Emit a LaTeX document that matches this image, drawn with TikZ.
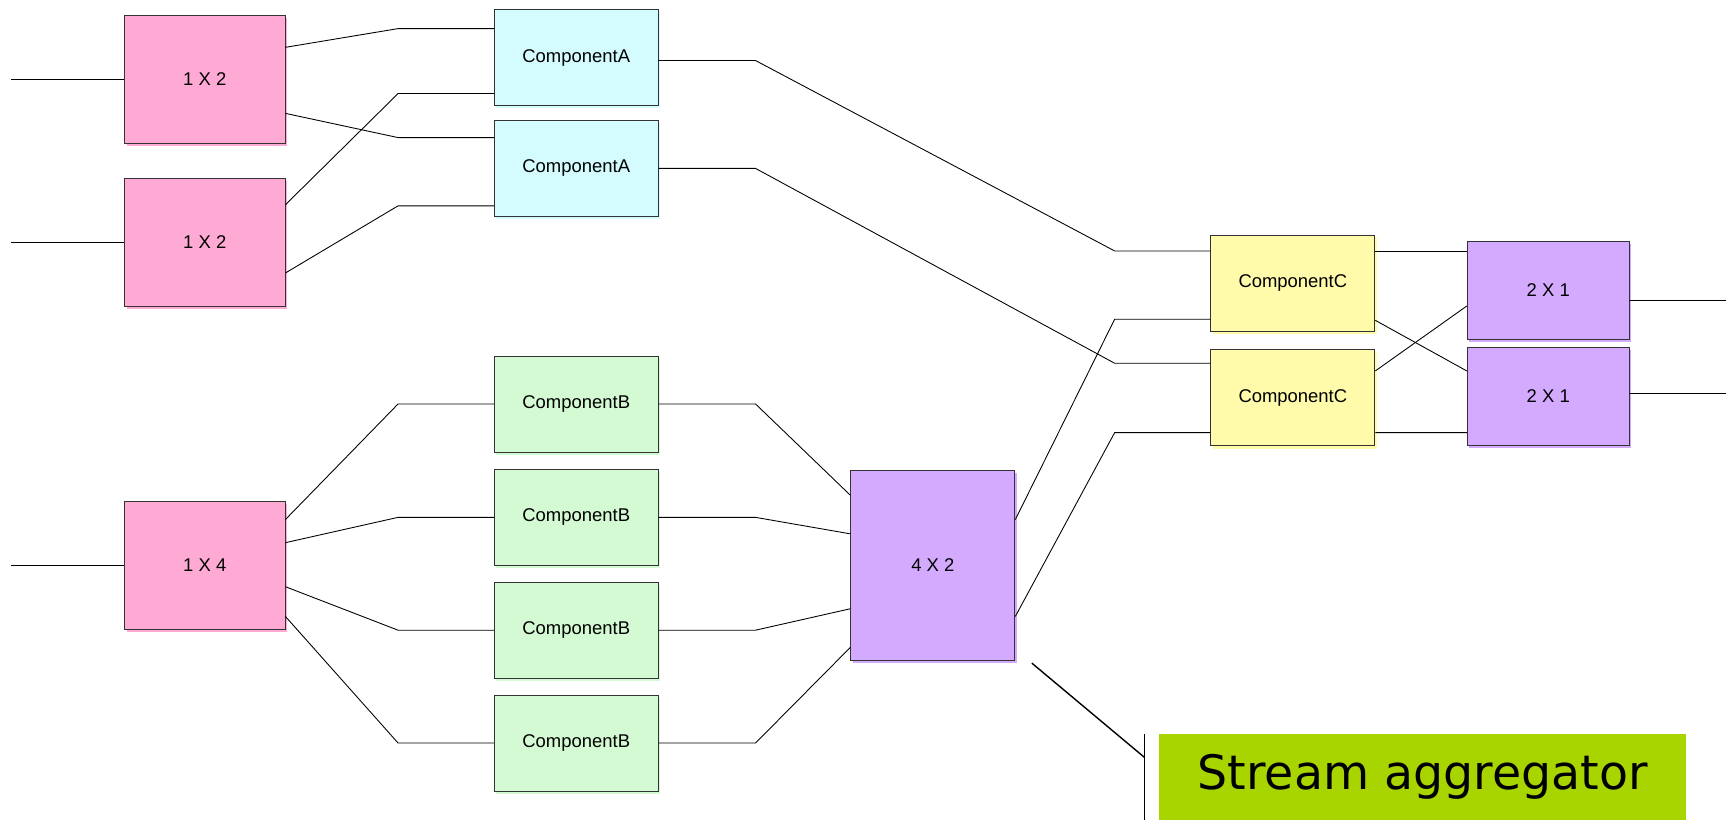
\documentclass[tikz,border=0pt]{standalone}
\usepackage{fontspec}
\setmainfont{Liberation Sans}
\newfontfamily\aggfont{DejaVu Sans}
\usetikzlibrary{calc,shadows}

\definecolor{splitpink}{HTML}{FFAAD4}
\definecolor{compcyan}{HTML}{D4FCFF}
\definecolor{compgreen}{HTML}{D4FAD4}
\definecolor{compyellow}{HTML}{FFFBAA}
\definecolor{mergeviolet}{HTML}{D4AAFF}
\definecolor{agglime}{HTML}{A8D400}

\tikzset{
  box/.style={draw=black!80, line width=0.5pt, inner sep=0pt,
    minimum width=3.28cm, minimum height=1.92cm,
    font=\fontsize{10.5}{12}\selectfont},
  splitbox/.style={box, fill=splitpink, minimum width=3.21cm, minimum height=2.56cm,
    general shadow={fill=splitpink, shadow xshift=1.2pt, shadow yshift=-1.5pt}},
  compA/.style={box, fill=compcyan,
    general shadow={fill=compcyan, shadow xshift=1.2pt, shadow yshift=-1.5pt}},
  compB/.style={box, fill=compgreen,
    general shadow={fill=compgreen, shadow xshift=1.2pt, shadow yshift=-1.5pt}},
  compC/.style={box, fill=compyellow,
    general shadow={fill=compyellow, shadow xshift=1.2pt, shadow yshift=-1.5pt}},
  mergebox/.style={box, fill=mergeviolet,
    general shadow={fill=mergeviolet, shadow xshift=1.2pt, shadow yshift=-1.5pt}},
  wire/.style={line width=0.5pt}
}

\begin{document}
\begin{tikzpicture}[x=0.022016cm,y=-0.022016cm]
\useasboundingbox (0,0) rectangle (1568,745);

% splitters
\node[splitbox] (p1) at (186,72) {1 X 2};
\node[splitbox] (p2) at (186,220) {1 X 2};
\node[splitbox] (p3) at (186,513.5) {1 X 4};

% components
\node[compA] (a1) at (523.5,52.5) {ComponentA};
\node[compA] (a2) at (523.5,153) {ComponentA};
\node[compB] (b1) at (523.5,367) {ComponentB};
\node[compB] (b2) at (523.5,470) {ComponentB};
\node[compB] (b3) at (523.5,572.5) {ComponentB};
\node[compB] (b4) at (523.5,675) {ComponentB};
\node[compC] (c1) at (1174.5,257.5) {ComponentC};
\node[compC] (c2) at (1174.5,361.5) {ComponentC};

% mergers
\node[mergebox, minimum height=3.81cm] (m) at (847.5,513.5) {4 X 2};
\node[mergebox, minimum width=3.24cm, minimum height=1.96cm] (d1) at (1406.5,263.5) {2 X 1};
\node[mergebox, minimum width=3.24cm, minimum height=1.96cm] (d2) at (1406.5,360) {2 X 1};

% label
\node[fill=agglime, minimum width=10.55cm, minimum height=1.72cm, inner sep=0pt,
  font=\aggfont\fontsize{27}{30}\selectfont] (agg) at (1292.5,706) {Stream aggregator};

\coordinate (in1) at (10,72);
\coordinate (in2) at (10,220);
\coordinate (in3) at (10,513.5);
\coordinate (out1) at (1568,273);
\coordinate (out2) at (1568,357);

% inputs and outputs
\draw[wire] (in1) -- (p1.west);
\draw[wire] (in2) -- (p2.west);
\draw[wire] (in3) -- (p3.west);
\draw[wire] ($(d1.east)+(0,9.5)$) -- (out1);
\draw[wire] ($(d2.east)+(0,-3)$) -- (out2);

% splitters to A
\draw[wire] ($(p1.east)+(0,-29)$) -- ($(a1.west)+(-87,-26.5)$) -- ($(a1.west)+(0,-26.5)$);
\draw[wire] ($(p1.east)+(0,31)$) -- ($(a2.west)+(-87,-28)$) -- ($(a2.west)+(0,-28)$);
\draw[wire] ($(p2.east)+(0,-34)$) -- ($(a1.west)+(-87,32.5)$) -- ($(a1.west)+(0,32.5)$);
\draw[wire] ($(p2.east)+(0,28)$) -- ($(a2.west)+(-87,34)$) -- ($(a2.west)+(0,34)$);

% A to C
\draw[wire] ($(a1.east)+(0,2.5)$) -- ($(a1.east)+(88,2.5)$) -- ($(c1.west)+(-87,-29.5)$) -- ($(c1.west)+(0,-29.5)$);
\draw[wire] (a2.east) -- ($(a2.east)+(88,0)$) -- ($(c2.west)+(-87,-31.5)$) -- ($(c2.west)+(0,-31.5)$);

% splitter to B
\draw[wire] ($(p3.east)+(0,-41.5)$) -- ($(b1.west)+(-87,0)$) -- (b1.west);
\draw[wire] ($(p3.east)+(0,-20.5)$) -- ($(b2.west)+(-87,0)$) -- (b2.west);
\draw[wire] ($(p3.east)+(0,19.5)$) -- ($(b3.west)+(-87,0)$) -- (b3.west);
\draw[wire] ($(p3.east)+(0,46.5)$) -- ($(b4.west)+(-87,0)$) -- (b4.west);

% B to 4x2
\draw[wire] (b1.east) -- ($(b1.east)+(88,0)$) -- ($(m.west)+(0,-63.5)$);
\draw[wire] (b2.east) -- ($(b2.east)+(88,0)$) -- ($(m.west)+(0,-28.5)$);
\draw[wire] (b3.east) -- ($(b3.east)+(88,0)$) -- ($(m.west)+(0,39.5)$);
\draw[wire] (b4.east) -- ($(b4.east)+(88,0)$) -- ($(m.west)+(0,74.5)$);

% 4x2 to C
\draw[wire] ($(m.east)+(0,-41.5)$) -- ($(c1.west)+(-87,32.5)$) -- ($(c1.west)+(0,32.5)$);
\draw[wire] ($(m.east)+(0,46.5)$) -- ($(c2.west)+(-87,31.5)$) -- ($(c2.west)+(0,31.5)$);

% C to 2x1
\draw[wire] ($(c1.east)+(0,-29.5)$) -- ($(d1.west)+(0,-35.5)$);
\draw[wire] ($(c1.east)+(0,33.5)$) -- ($(d2.west)+(0,-23)$);
\draw[wire] ($(c2.east)+(0,-24.5)$) -- ($(d1.west)+(0,14.5)$);
\draw[wire] ($(c2.east)+(0,31.5)$) -- ($(d2.west)+(0,33)$);

% callout
\coordinate (tip) at ($(m.south east)+(15,2)$);
\coordinate (brk) at ($(agg.west)+(-13,-18)$);
\draw[line width=0.8pt] (tip) -- (brk);
\draw[line width=0.5pt] ($(agg.north west)+(-13,0)$) -- ($(agg.south west)+(-13,0)$);

\end{tikzpicture}
\end{document}
